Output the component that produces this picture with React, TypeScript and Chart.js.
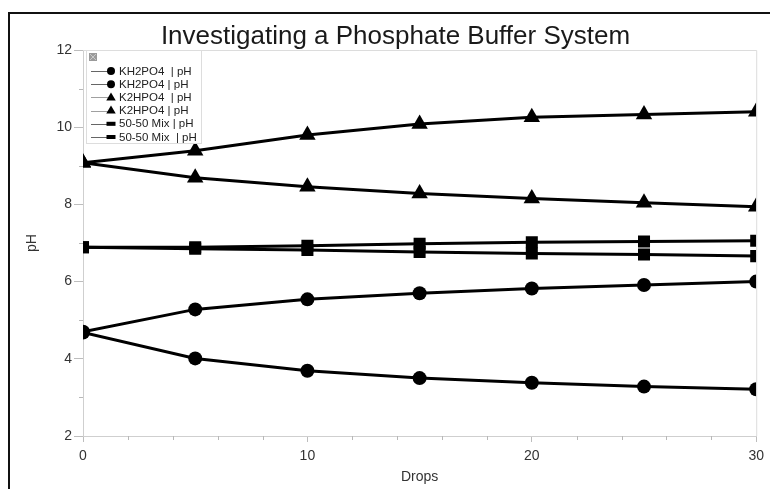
import React, { useEffect, useRef } from "react";
import { Chart, registerables } from "chart.js";

Chart.register(...registerables);

const drops = [0, 5, 10, 15, 20, 25, 30];
const kh2po4Up = [4.7, 5.28, 5.54, 5.7, 5.82, 5.91, 6.0];
const kh2po4Down = [4.68, 4.01, 3.69, 3.5, 3.38, 3.28, 3.21];
const k2hpo4Up = [9.08, 9.39, 9.8, 10.08, 10.26, 10.33, 10.4];
const k2hpo4Down = [9.08, 8.69, 8.46, 8.28, 8.15, 8.04, 7.94];
const mixDown = [6.89, 6.85, 6.82, 6.77, 6.73, 6.7, 6.66];
const mixUp = [6.89, 6.89, 6.93, 6.98, 7.02, 7.04, 7.06];

const seriesLabels = [
  "KH2PO4  | pH",
  "KH2PO4 | pH",
  "K2HPO4  | pH",
  "K2HPO4 | pH",
  "50-50 Mix | pH",
  "50-50 Mix  | pH",
];
const seriesValues = [kh2po4Down, kh2po4Up, k2hpo4Up, k2hpo4Down, mixDown, mixUp];
const seriesStyles = ["circle", "circle", "triangle", "triangle", "rect", "rect"];
const seriesRadius = [7, 7, 9.5, 9.5, 8.5, 8.5];

const xTicks = [0, 10, 20, 30];
const yTicks = [2, 4, 6, 8, 10, 12];

const FONT = "'Liberation Sans', Arial, sans-serif";

function drawMarker(ctx: CanvasRenderingContext2D, style: string, x: number, y: number, r: number) {
  ctx.beginPath();
  if (style === "circle") {
    ctx.arc(x, y, r, 0, Math.PI * 2);
  } else if (style === "triangle") {
    ctx.moveTo(x, y - r);
    ctx.lineTo(x + r * 0.95, y + r * 0.6);
    ctx.lineTo(x - r * 0.95, y + r * 0.6);
    ctx.closePath();
  } else {
    ctx.rect(x - r, y - r * 0.45, 2 * r, r * 0.9);
  }
  ctx.fill();
}

const framePlugin = {
  id: "frame",
  beforeDraw(chart: any) {
    const { ctx, width, height } = chart;
    ctx.save();
    ctx.fillStyle = "#ffffff";
    ctx.fillRect(0, 0, width, height);
    ctx.fillStyle = "#111111";
    ctx.fillRect(9, 12, width, 2);
    ctx.fillRect(8, 12, 2, height);
    ctx.restore();
  },
  afterDraw(chart: any) {
    const { ctx, chartArea } = chart;
    const xs = chart.scales.x;
    const ys = chart.scales.y;
    ctx.save();
    // plot border
    ctx.strokeStyle = "#dcdcdc";
    ctx.lineWidth = 1;
    ctx.beginPath();
    ctx.moveTo(chartArea.left, chartArea.top + 0.5);
    ctx.lineTo(chartArea.right + 0.5, chartArea.top + 0.5);
    ctx.lineTo(chartArea.right + 0.5, chartArea.bottom);
    ctx.stroke();
    // minor ticks
    ctx.strokeStyle = "#b8b8b8";
    ctx.beginPath();
    for (let v = 0; v <= 30; v += 2) {
      if (v % 10 === 0) continue;
      const px = Math.round(xs.getPixelForValue(v)) + 0.5;
      ctx.moveTo(px, chartArea.bottom);
      ctx.lineTo(px, chartArea.bottom + 4);
    }
    for (let v = 3; v <= 11; v += 2) {
      const py = Math.round(ys.getPixelForValue(v)) + 0.5;
      ctx.moveTo(chartArea.left - 4, py);
      ctx.lineTo(chartArea.left, py);
    }
    ctx.stroke();

    // legend panel
    const bx = chartArea.left + 3;
    const by = chartArea.top;
    const bw = 115;
    const bh = 93;
    ctx.fillStyle = "#ffffff";
    ctx.fillRect(bx, by, bw, bh);
    ctx.strokeStyle = "#dddddd";
    ctx.strokeRect(bx + 0.5, by + 0.5, bw, bh);
    // close icon
    ctx.fillStyle = "#9a9a9a";
    ctx.fillRect(bx + 3, by + 3, 8, 8);
    ctx.strokeStyle = "#c8c8c8";
    ctx.beginPath();
    ctx.moveTo(bx + 4, by + 4);
    ctx.lineTo(bx + 10, by + 10);
    ctx.moveTo(bx + 10, by + 4);
    ctx.lineTo(bx + 4, by + 10);
    ctx.stroke();

    chart.data.datasets.forEach((ds: any, i: number) => {
      const y = by + 21 + i * 13.2;
      ctx.strokeStyle = i === 2 || i === 3 ? "#a0a0a0" : "#666666";
      ctx.lineWidth = 1;
      ctx.beginPath();
      ctx.moveTo(bx + 5, Math.round(y) + 0.5);
      ctx.lineTo(bx + 22, Math.round(y) + 0.5);
      ctx.stroke();
      ctx.fillStyle = "#000000";
      const st = ds.pointStyle;
      drawMarker(ctx, st, bx + 25, y, st === "triangle" ? 5 : st === "rect" ? 4.5 : 4);
      ctx.fillStyle = "#222222";
      ctx.font = "11.5px " + FONT;
      ctx.textBaseline = "middle";
      ctx.textAlign = "left";
      ctx.fillText(ds.label, bx + 33, y + 0.5);
    });
    ctx.restore();
  },
};

export default function App() {
  const ref = useRef<HTMLCanvasElement | null>(null);

  useEffect(() => {
    document.body.style.margin = "0";
    const canvas = ref.current;
    if (!canvas) return;
    const datasets = seriesLabels.map((label, i) => ({
      label,
      data: drops.map((d, j) => ({ x: d, y: seriesValues[i][j] })),
      borderColor: "#000000",
      backgroundColor: "#000000",
      borderWidth: 3,
      pointStyle: seriesStyles[i],
      pointRadius: seriesRadius[i],
      pointBorderWidth: 0,
      pointBackgroundColor: "#000000",
      tension: 0,
      xAxisID: "x",
      yAxisID: "y",
    }));

    const chart = new Chart(canvas, {
      type: "line",
      data: { datasets },
      options: {
        animation: false,
        responsive: false,
        maintainAspectRatio: false,
        layout: { padding: { left: 21, right: 0, top: 10, bottom: 0 } },
        plugins: {
          legend: { display: false },
          tooltip: { enabled: false },
          title: {
            display: true,
            text: "Investigating a Phosphate Buffer System",
            color: "#1a1a1a",
            font: { family: FONT, size: 26, weight: "normal", lineHeight: 1 },
            padding: { top: 13.5, bottom: 0.5 },
          },
        },
        scales: {
          x: {
            type: "linear",
            min: 0,
            max: 30,
            afterBuildTicks: (s: any) => {
              s.ticks = xTicks.map((v) => ({ value: v }));
            },
            afterFit: (s: any) => {
              s.height = 53;
            },
            ticks: {
              color: "#333333",
              font: { family: FONT, size: 14 },
              padding: 6,
              maxRotation: 0,
            },
            grid: { drawOnChartArea: false, tickLength: 6, color: "#bdbdbd" },
            border: { color: "#cfcfcf" },
            title: {
              display: true,
              text: "Drops",
              color: "#333333",
              font: { family: FONT, size: 14 },
              padding: { top: 4, bottom: 3 },
            },
          },
          y: {
            type: "linear",
            position: "left",
            min: 2,
            max: 12,
            afterBuildTicks: (s: any) => {
              s.ticks = yTicks.map((v) => ({ value: v }));
            },
            afterFit: (s: any) => {
              s.width = 62;
            },
            ticks: {
              color: "#333333",
              font: { family: FONT, size: 14 },
              padding: 2,
            },
            grid: { drawOnChartArea: false, tickLength: 9, color: "#bdbdbd" },
            border: { color: "#cfcfcf" },
            title: {
              display: true,
              text: "pH",
              color: "#333333",
              font: { family: FONT, size: 14 },
              padding: { top: 3, bottom: 0 },
            },
          },
          yR: {
            type: "linear",
            position: "right",
            display: true,
            min: 2,
            max: 12,
            afterFit: (s: any) => {
              s.width = 13;
            },
            ticks: { display: false },
            grid: { display: false },
            border: { display: false },
          },
        },
      },
      plugins: [framePlugin],
    } as any);

    return () => {
      chart.destroy();
    };
  }, []);

  return (
    <div style={{ width: 770, height: 489, overflow: "hidden" }}>
      <canvas ref={ref} width={770} height={489} style={{ display: "block" }} />
    </div>
  );
}
